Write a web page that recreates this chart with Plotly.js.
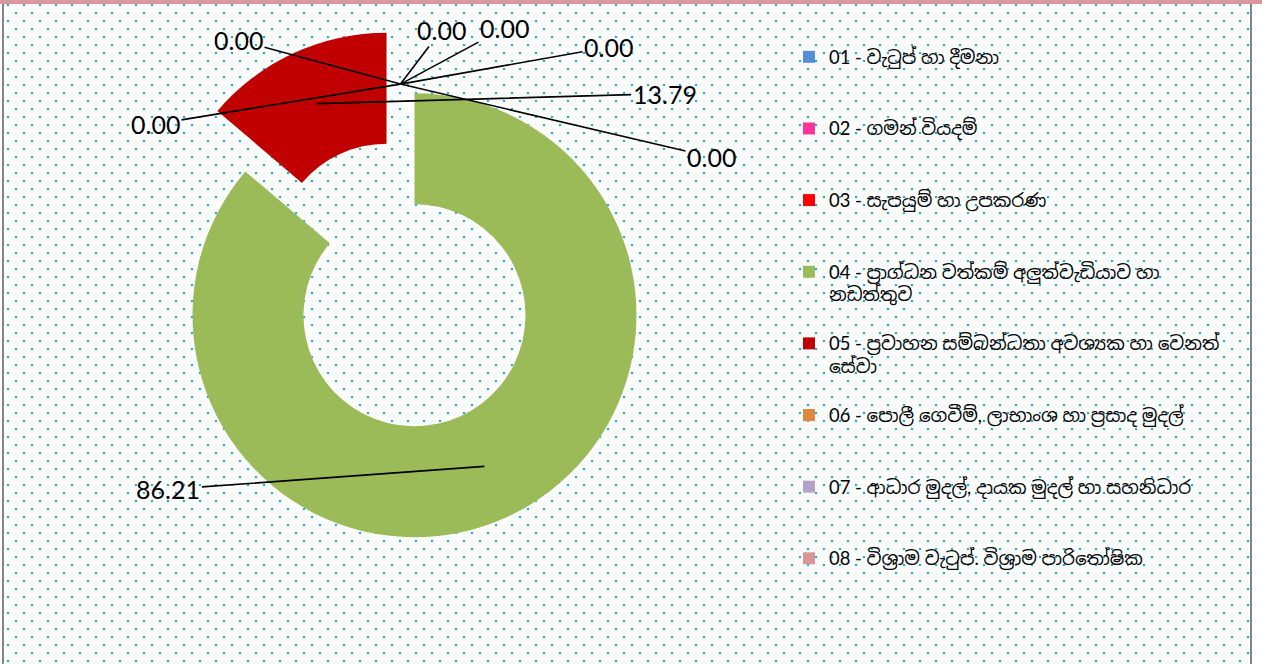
<!DOCTYPE html>
<html>
<head>
<meta charset="utf-8">
<script src="https://cdn.plot.ly/plotly-3.0.1.min.js"></script>
<style>
html,body{margin:0;padding:0;background:#ffffff;width:1262px;height:664px;overflow:hidden;}
#wrap{position:relative;width:1262px;height:664px;background:#ffffff;}
#dots{position:absolute;left:4px;top:4px;width:1246px;height:660px;
  background-image:url("data:image/svg+xml,%3Csvg xmlns='http://www.w3.org/2000/svg' width='16' height='16' shape-rendering='crispEdges'%3E%3Crect x='3' y='0' width='2' height='2' fill='%2300b0f0'/%3E%3Crect x='11' y='8' width='2' height='2' fill='%2300b0f0'/%3E%3C/svg%3E");
  background-repeat:repeat;}
#chart{position:absolute;left:0;top:0;width:1262px;height:664px;}
.edge{position:absolute;}
#topEdge{left:0;top:0;width:1262px;height:4px;background:#d9979d;}
#leftEdge{left:2px;top:4px;width:2px;height:660px;background:#858585;}
#rightEdge{left:1250px;top:4px;width:2px;height:660px;background:#858585;}
</style>
</head>
<body>
<div id="wrap">
  <div id="dots"></div>
  <div id="chart"></div>
  <div class="edge" id="topEdge"></div>
  <div class="edge" id="leftEdge"></div>
  <div class="edge" id="rightEdge"></div>
</div>
<script>
// ---- data ----
const categories = [
  '01 - වැටුප් හා දීමනා',
  '02 - ගමන් වියදම්',
  '03 - සැපයුම් හා උපකරණ',
  '04 - ප්‍රාග්ධන වත්කම් අලුත්වැඩියාව හා<br>නඩත්තුව',
  '05 - ප්‍රවාහන සම්බන්ධතා අවශ්‍යක හා වෙනත්<br>සේවා',
  '06 - පොලී ගෙවීම්, ලාභාංශ හා ප්‍රසාද මුදල්',
  '07 - ආධාර මුදල්, දායක මුදල් හා සහනිධාර',
  '08 - විශ්‍රාම වැටුප්. විශ්‍රාම පාරිතෝෂික'
];
const values = [0.00, 0.00, 0.00, 86.21, 13.79, 0.00, 0.00, 0.00];

// ---- styles ----
const sliceColors = ['#558ed5', '#ff3399', '#ff0000', '#9bbb59', '#c00000', '#e0883c', '#b3a2c7', '#d99694'];
// label text offsets (px) from each leader line tip
const labelOffsets = [
  [-162, -44], [41, -54], [104, -56], [-316, 23],
  [348, -10], [208, -37], [311, 73], [-245, 40]
];

const W = 1262, H = 664;
const CX = 400.5, CY = 285, R = 222, PULL = 0.15, HOLE = 0.5;
const half = R * (1 + PULL);

const legendLabels = categories.map(function (c) {
  const lines = c.split('<br>');
  const l2 = lines.length > 1 ? lines[1] : '&nbsp;';
  return '&nbsp;<br><span style="font-size:18.4px">' + lines[0] + '</span><br><span style="font-size:18.4px">' + l2 + '</span>';
});

const trace = {
  type: 'pie',
  labels: legendLabels,
  values: values,
  sort: false,
  direction: 'clockwise',
  rotation: 0,
  hole: HOLE,
  pull: PULL,
  textinfo: 'none',
  hoverinfo: 'skip',
  marker: { colors: sliceColors, line: { width: 0 } },
  domain: {
    x: [(CX - half) / W, (CX + half) / W],
    y: [1 - (CY + half) / H, 1 - (CY - half) / H]
  },
  showlegend: true
};

// leader-line annotations
const total = values.reduce(function (a, b) { return a + b; }, 0);
let cum = 0;
const annotations = values.map(function (v, i) {
  let px, py, th;
  if (v > 0) {
    th = 2 * Math.PI * (cum + v / 2) / total;
    const ox = CX + PULL * R * Math.sin(th);
    const oy = CY - PULL * R * Math.cos(th);
    const rm = R * (1 + HOLE) / 2;
    px = ox + rm * Math.sin(th);
    py = oy - rm * Math.cos(th);
  } else {
    th = 2 * Math.PI * cum / total;
    px = CX + 0.905 * R * Math.sin(th);
    py = CY - 0.905 * R * Math.cos(th);
  }
  cum += v;
  return {
    x: px / W, y: 1 - py / H, xref: 'paper', yref: 'paper',
    text: v.toFixed(2),
    showarrow: true, arrowhead: 0, arrowwidth: 1.6, arrowcolor: '#000000',
    standoff: 0,
    ax: labelOffsets[i][0], ay: labelOffsets[i][1],
    font: { family: 'Lato, "Open Sans", sans-serif', size: 25, color: '#000000' }
  };
});

const layout = {
  width: W, height: H,
  margin: { l: 0, r: 0, t: 0, b: 0 },
  paper_bgcolor: 'rgba(0,0,0,0)',
  plot_bgcolor: 'rgba(0,0,0,0)',
  showlegend: true,
  legend: {
    x: 789 / W, xanchor: 'left',
    y: 1 - 16 / H, yanchor: 'top',
    bgcolor: 'rgba(0,0,0,0)',
    borderwidth: 0,
    font: { family: 'Lato, "Noto Sans Sinhala", "Noto Sans", sans-serif', size: 17.6, color: '#000000' },
    traceorder: 'normal'
  },
  annotations: annotations
};

Plotly.newPlot('chart', [trace], layout, { displayModeBar: false, staticPlot: true });
</script>
</body>
</html>
